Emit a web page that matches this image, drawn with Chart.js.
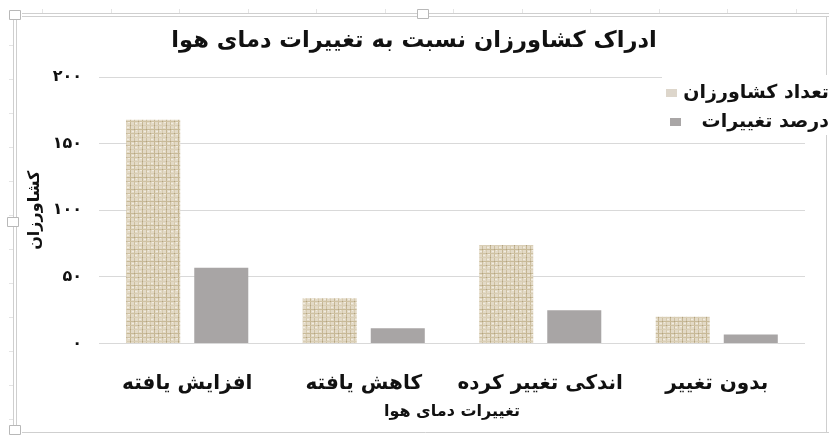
<!DOCTYPE html>
<html lang="fa">
<head>
<meta charset="utf-8">
<script src="https://cdn.jsdelivr.net/npm/chart.js@4.4.1/dist/chart.umd.min.js"></script>
<style>
  html, body { margin: 0; padding: 0; background: #ffffff; }
  #wrap { width: 829px; height: 437px; position: relative; }
</style>
</head>
<body>
<div id="wrap"><canvas id="c" width="829" height="437"></canvas></div>
<script>
// ---- data ----
const categories = ['افزایش یافته', 'کاهش یافته', 'اندکی تغییر کرده', 'بدون تغییر'];
const farmersCount = [168, 34, 74, 20];
const changePercent = [56.8, 11.5, 25, 6.8];
const seriesLabels = ['تعداد کشاورزان', 'درصد تغییرات'];
const yTickLabels = ['۰', '۵۰', '۱۰۰', '۱۵۰', '۲۰۰'];
const chartTitle = 'ادراک کشاورزان نسبت به تغییرات دمای هوا';
const xTitle = 'تغییرات دمای هوا';
const yTitle = 'کشاورزان';

// ---- burlap texture pattern ----
function makeBurlap() {
  const p = document.createElement('canvas');
  p.width = 12; p.height = 12;
  const g = p.getContext('2d');
  g.fillStyle = '#e3dac7';
  g.fillRect(0, 0, 12, 12);
  g.fillStyle = '#cdbf9f'; g.fillRect(2, 0, 1, 12);
  g.fillStyle = '#d6caae'; g.fillRect(6, 0, 1, 12);
  g.fillStyle = '#c5b693'; g.fillRect(10, 0, 1, 12);
  g.fillStyle = '#cfc2a3'; g.fillRect(0, 1, 12, 1);
  g.fillStyle = '#d9ceb5'; g.fillRect(0, 5, 12, 1);
  g.fillStyle = '#c8ba98'; g.fillRect(0, 9, 12, 1);
  g.fillStyle = '#f1ece0';
  g.fillRect(3, 3, 2, 1); g.fillRect(7, 7, 2, 1); g.fillRect(0, 11, 2, 1);
  g.fillRect(4, 10, 1, 1); g.fillRect(8, 2, 2, 1);
  g.fillStyle = '#b4a482';
  g.fillRect(2, 9, 1, 1); g.fillRect(10, 5, 1, 1); g.fillRect(6, 1, 1, 1);
  return g.createPattern(p, 'repeat');
}
const ctx0 = document.getElementById('c').getContext('2d');
const burlap = makeBurlap();
const grayColor = '#a8a5a5';

const FONT = "'DejaVu Sans', 'Noto Sans', sans-serif";

// ---- frame / decoration plugin ----
const framePlugin = {
  id: 'frame',
  afterDraw(chart) {
    const c = chart.ctx;
    c.save();
    c.strokeStyle = '#cfcfcf';
    c.lineWidth = 1;
    c.beginPath();
    c.moveTo(22, 13.5); c.lineTo(829, 13.5);
    c.moveTo(22, 16.5); c.lineTo(829, 16.5);
    c.moveTo(13.5, 20); c.lineTo(13.5, 428);
    c.moveTo(16.5, 20); c.lineTo(16.5, 428);
    c.moveTo(22, 432.5); c.lineTo(829, 432.5);
    c.moveTo(826.5, 17); c.lineTo(826.5, 432);
    c.stroke();
    c.strokeStyle = '#e4e4e4';
    c.beginPath();
    for (let x = 42; x < 829; x += 68.5) { c.moveTo(Math.round(x) + 0.5, 9); c.lineTo(Math.round(x) + 0.5, 13); }
    for (let y = 45; y < 430; y += 34) { c.moveTo(9, Math.round(y) + 0.5); c.lineTo(13, Math.round(y) + 0.5); }
    c.stroke();
    c.strokeStyle = '#b8b8b8';
    c.fillStyle = '#ffffff';
    const handles = [[9.5, 10.5], [417.5, 9.5], [7.5, 217.5], [9.5, 425.5]];
    handles.forEach(([hx, hy]) => {
      c.beginPath();
      c.rect(hx, hy, 11, 9);
      c.fill(); c.stroke();
    });
    c.restore();

    // ---- legend (from dataset labels) ----
    const lc = chart.ctx;
    lc.save();
    lc.fillStyle = '#ffffff';
    lc.fillRect(662, 75, 167, 60);
    const rows = [93, 122];
    const boxX = [666, 670];
    const boxColors = ['#ddd6cb', '#a9a6a6'];
    lc.font = "bold 19px " + FONT;
    lc.textAlign = 'right';
    lc.textBaseline = 'middle';
    lc.direction = 'rtl';
    chart.data.datasets.forEach((ds, i) => {
      lc.fillStyle = boxColors[i];
      lc.fillRect(boxX[i], rows[i] - 4, 11, 8);
      lc.fillStyle = '#111111';
      lc.fillText(ds.label, 829, rows[i]);
    });
    lc.restore();
  }
};

new Chart(ctx0, {
  type: 'bar',
  data: {
    labels: categories,
    datasets: [
      { label: seriesLabels[0], data: farmersCount, backgroundColor: burlap, borderWidth: 0 },
      { label: seriesLabels[1], data: changePercent, backgroundColor: grayColor, borderWidth: 0 }
    ]
  },
  options: {
    responsive: false,
    animation: false,
    devicePixelRatio: 1,
    layout: { padding: { top: 0, left: 23, right: 24, bottom: 0 } },
    datasets: { bar: { categoryPercentage: 0.771, barPercentage: 0.794 } },
    plugins: {
      legend: { display: false },
      tooltip: { enabled: false },
      title: {
        display: true,
        text: chartTitle,
        color: '#111111',
        font: { family: FONT, size: 22.6, weight: 'bold' },
        padding: { top: 28, bottom: 22 }
      }
    },
    scales: {
      x: {
        grid: { display: false, drawTicks: false },
        border: { display: false },
        ticks: {
          color: '#111111',
          font: { family: FONT, size: 20, weight: 'bold' },
          padding: 28,
          maxRotation: 0,
          autoSkip: false
        },
        title: {
          display: true,
          text: xTitle,
          color: '#111111',
          font: { family: FONT, size: 16, weight: 'bold' },
          padding: { top: 0, bottom: 16 }
        },
        afterFit(s) { s.height = 93.5; }
      },
      y: {
        min: 0, max: 200,
        ticks: {
          stepSize: 50,
          color: '#111111',
          font: { family: FONT, size: 16, weight: 'bold' },
          padding: 17,
          callback: (v, i) => yTickLabels[i]
        },
        grid: { color: '#d9d9d9', lineWidth: 1, drawTicks: false },
        border: { display: false },
        title: {
          display: true,
          text: yTitle,
          color: '#111111',
          font: { family: FONT, size: 16, weight: 'bold' },
          padding: { top: 2.4, bottom: 0 }
        },
        afterFit(s) { s.width = 76; }
      }
    }
  },
  plugins: [framePlugin]
});
</script>
</body>
</html>
